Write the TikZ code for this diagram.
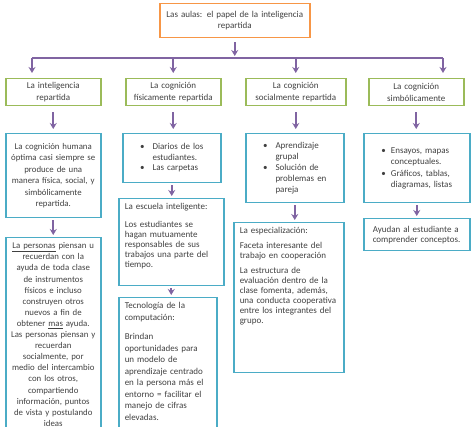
\documentclass[tikz,border=0pt]{standalone}
\usepackage{fontspec}
\setmainfont{Carlito}
\usepackage{tikz}
\usetikzlibrary{arrows.meta,positioning}
\definecolor{AulaOrange}{RGB}{247,150,70}
\definecolor{TopicGreen}{RGB}{155,187,89}
\definecolor{NoteBlue}{RGB}{75,172,198}
\definecolor{LinkPurple}{RGB}{128,100,162}
\definecolor{TextGray}{RGB}{64,64,64}

\begin{document}
\begin{tikzpicture}[
    x=1pt, y=-1pt,
    every node/.style={text=TextGray, font=\fontsize{9}{10.5}\selectfont},
    titlebox/.style={draw=AulaOrange, line width=1.5pt, anchor=north west, align=center, inner xsep=5pt, inner ysep=3pt, font=\fontsize{9}{11}\selectfont},
    topicbox/.style={draw=TopicGreen, line width=1.5pt, anchor=north west, align=center, inner xsep=5pt, inner ysep=2pt, font=\fontsize{9}{12}\selectfont},
    notebox/.style={draw=NoteBlue, line width=1.5pt, anchor=north west, inner xsep=5pt, inner ysep=4pt},
    deep/.style={text height=7pt, text depth=#1},
    conn/.style={draw=LinkPurple, line width=1.6pt, -{Stealth[length=6pt,width=7pt]}}
]
    \useasboundingbox (0,0) rectangle (474,427);
    \clip (0,0) rectangle (474,427);

    % title and the four topics
    \node[titlebox, minimum width=150pt, minimum height=34pt, text width=140pt] (aulas) at (159,3) {Las aulas: el papel de la inteligencia\\repartida};
    \node[topicbox, minimum height=27pt, text width=85pt] (rep) at (5,78) {La inteligencia\\repartida};
    \node[topicbox, minimum height=27pt, text width=85pt] (fis) at (125,78) {La cognición\\físicamente repartida};
    \node[topicbox, minimum height=27pt, text width=90pt] (soc) at (245,78) {La cognición\\socialmente  repartida};
    \node[topicbox, minimum height=27pt, text width=85pt] (sim) at (368,78) {La cognición\\simbólicamente};

    % notes, column by column
    \node[notebox, minimum height=84pt, text width=89pt, inner xsep=3pt, align=center, font=\fontsize{8.8}{11.5}\selectfont] (optima) at (5,133)
        {La cognición  humana\\óptima  casi siempre se\\produce  de una\\manera física, social, y\\simbólicamente\\repartida.};
    \node[notebox, deep=188pt, text width=89pt, inner xsep=3pt, align=center, font=\fontsize{8.8}{11.1}\selectfont] (personas) at (5,237)
        {\underline{La personas} piensan u\\recuerdan con la\\ayuda de toda  clase\\de instrumentos\\físicos  e incluso\\construyen  otros\\nuevos a fin  de\\obtener  \underline{mas} ayuda.\\Las personas piensan y\\recuerdan\\socialmente,  por\\medio del intercambio\\con los otros,\\compartiendo\\información,  puntos\\de vista y postulando\\ideas};

    \node[notebox, minimum height=49pt, text width=88pt, align=center] (diarios) at (122,133)
        {\begin{tabular}{@{}c@{\hspace{8pt}}l@{}}\textbullet & Diarios de los\\ & estudiantes.\\ \textbullet & Las carpetas\end{tabular}};
    \node[notebox, deep=72pt, text width=93pt, align=left, inner xsep=6pt, font=\fontsize{9}{10}\selectfont] (escuela) at (118,198)
        {La escuela inteligente:\\[8pt]Los estudiantes  se\\hagan mutuamente\\responsables de sus\\trabajos una parte del\\tiempo.};
    \node[notebox, deep=140pt, text width=86pt, align=left, inner xsep=6pt, font=\fontsize{9}{11.5}\selectfont] (tecno) at (118,297)
        {Tecnología de la\\computación:\\[8pt]Brindan\\oportunidades  para\\un modelo de\\aprendizaje centrado\\en la persona más el\\entorno = facilitar  el\\manejo de cifras\\elevadas.};

    \node[notebox, minimum height=69pt, text width=88pt, align=center, font=\fontsize{9}{11}\selectfont] (grupal) at (245,133)
        {\begin{tabular}{@{}c@{\hspace{8pt}}l@{}}\textbullet & Aprendizaje\\ & grupal\\ \textbullet & Solución  de\\ & problemas en\\ & pareja\end{tabular}};
    \node[notebox, deep=135pt, text width=98pt, align=left, inner xsep=6pt, font=\fontsize{9}{10}\selectfont] (especial) at (233,222)
        {La especialización:\\[5pt]Faceta interesante del\\trabajo en cooperación\\[5pt]La estructura de\\evaluación dentro de la\\clase fomenta, además,\\una conducta  cooperativa\\entre los integrantes del\\grupo.};

    \node[notebox, minimum height=69pt, text width=96pt, align=center] (ensayos) at (363,133)
        {\begin{tabular}{@{}c@{\hspace{5pt}}l@{}}\textbullet & Ensayos, mapas\\ & conceptuales.\\[2pt] \textbullet & Gráficos, tablas,\\ & diagramas, listas\end{tabular}};
    \node[notebox, minimum height=32pt, text width=88pt, align=left, inner xsep=9pt, font=\fontsize{9}{10}\selectfont] (ayudan) at (363,218)
        {Ayudan al estudiante  a\\comprender  conceptos.};

    % connectors
    \coordinate (busL) at (32,58);
    \coordinate (busR) at (443,58);
    \draw[conn, shorten <=4pt, shorten >=2pt] (aulas.south) -- (aulas.south |- busL);
    \draw[LinkPurple, line width=1.6pt] (busL) -- (busR);
    \draw[conn, shorten >=5pt] (busL) -- (busL |- rep.north);
    \draw[conn, shorten >=5pt] (fis.north |- busL) -- (fis.north);
    \draw[conn, shorten >=5pt] (soc.north |- busL) -- (soc.north);
    \draw[conn, shorten >=5pt] (busR) -- (busR |- sim.north);
    \foreach \a/\b in {rep/optima, fis/diarios, soc/grupal, sim/ensayos}
        \draw[conn, shorten <=6pt, shorten >=4pt] (\a.south) -- (\a.south |- \b.north);
    \foreach \a/\b in {optima/personas, diarios/escuela, escuela/tecno, grupal/especial, ensayos/ayudan}
        \draw[conn, shorten <=2pt, shorten >=2pt] (\a.south) -- (\a.south |- \b.north);
\end{tikzpicture}
\end{document}
